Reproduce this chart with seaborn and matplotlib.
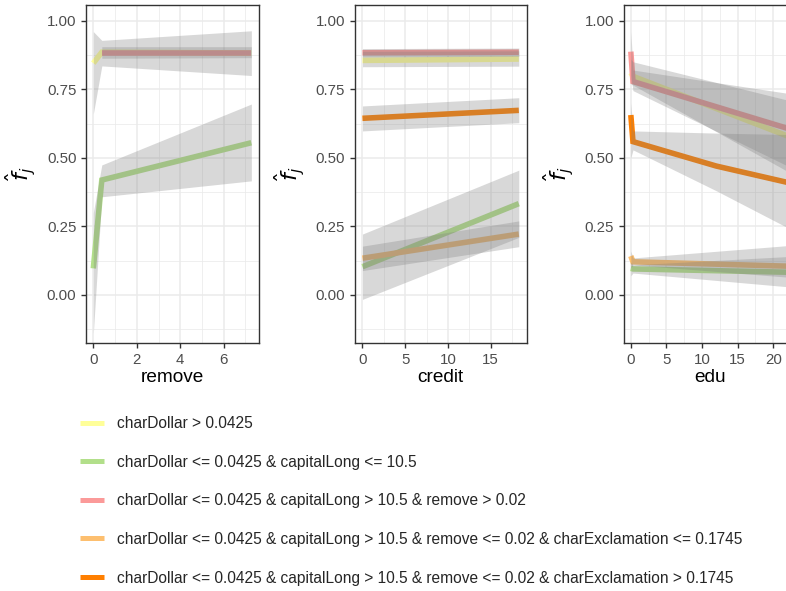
import numpy as np
import pandas as pd
import matplotlib
matplotlib.use("Agg")
import matplotlib.pyplot as plt
import seaborn as sns
from matplotlib.lines import Line2D
from matplotlib.ticker import MultipleLocator, FormatStrFormatter

# ---------------- data ----------------
group_labels = [
    "charDollar > 0.0425",
    "charDollar <= 0.0425 & capitalLong <= 10.5",
    "charDollar <= 0.0425 & capitalLong > 10.5 & remove > 0.02",
    "charDollar <= 0.0425 & capitalLong > 10.5 & remove <= 0.02 & charExclamation <= 0.1745",
    "charDollar <= 0.0425 & capitalLong > 10.5 & remove <= 0.02 & charExclamation > 0.1745",
]
group_colors = ["#FFFF99", "#B2DF8A", "#FB9A99", "#FDBF6F", "#FF7F00"]

# panel "remove" (groups 4 and 5 have no line here)
remove_x = [[0, 0.39, 7.27], [0, 0.39, 7.27], [0.39, 7.27], None, None]
remove_y = [[0.845, 0.885, 0.882], [0.097, 0.419, 0.555], [0.882, 0.882], None, None]
remove_lo = [[0.66, 0.835, 0.80], [-0.14, 0.358, 0.416], [0.863, 0.865], None, None]
remove_hi = [[0.96, 0.928, 0.963], [0.30, 0.474, 0.696], [0.905, 0.905], None, None]

# panel "credit"
credit_x = [[0, 18.3], [0, 18.3], [0, 18.3], [0, 18.3], [0, 18.3]]
credit_y = [[0.855, 0.86], [0.103, 0.333], [0.883, 0.885], [0.134, 0.222], [0.644, 0.673]]
credit_lo = [[0.832, 0.834], [-0.016, 0.21], [0.868, 0.87], [0.089, 0.176], [0.598, 0.628]]
credit_hi = [[0.888, 0.89], [0.222, 0.455], [0.898, 0.9], [0.178, 0.27], [0.689, 0.719]]

# panel "edu"
edu_x = [[0, 0.3, 22.05], [0, 0.3, 22.05], [0, 0.3, 22.05], [0, 0.3, 22.05], [0, 0.3, 12, 22.05]]
edu_y = [[0.81, 0.797, 0.579], [0.097, 0.095, 0.083], [0.887, 0.778, 0.607],
         [0.142, 0.121, 0.105], [0.656, 0.559, 0.47, 0.41]]
edu_lo = [[0.77, 0.765, 0.45], [0.07, 0.08, 0.03], [0.80, 0.745, 0.47],
          [0.10, 0.11, 0.065], [0.50, 0.529, 0.38, 0.245]]
edu_hi = [[0.86, 0.85, 0.71], [0.12, 0.11, 0.14], [0.96, 0.82, 0.735],
          [0.16, 0.135, 0.18], [0.70, 0.598, 0.59, 0.585]]

features = ["remove", "credit", "edu"]
x_major = [2, 5, 5]
xlims = [(-0.337, 7.6), (-0.93, 19.26), (-1.03, 23.2)]
ylims = (-0.175, 1.057)

# ---------------- style ----------------
sns.set_style("white")
plt.rcParams["font.family"] = ["Liberation Sans", "DejaVu Sans"]

W, H = 786, 591
fig = plt.figure(figsize=(W / 100, H / 100), dpi=100)

panel_lefts = [86, 354.5, 623.5]
panel_w = 172.5
top_px, bot_px = 5, 343

panel_data = [
    (remove_x, remove_y, remove_lo, remove_hi),
    (credit_x, credit_y, credit_lo, credit_hi),
    (edu_x, edu_y, edu_lo, edu_hi),
]

for i, feat in enumerate(features):
    ax = fig.add_axes([panel_lefts[i] / W, 1 - bot_px / H, panel_w / W, (bot_px - top_px) / H])
    xs, ys, los, his = panel_data[i]
    rows = []
    for g in range(5):
        if xs[g] is None:
            continue
        for xv, yv, lv, hv in zip(xs[g], ys[g], los[g], his[g]):
            rows.append((group_labels[g], xv, yv, lv, hv))
    df = pd.DataFrame(rows, columns=["group", "x", "y", "lo", "hi"])
    order = [group_labels[g] for g in range(5) if xs[g] is not None]
    pal = {group_labels[g]: group_colors[g] for g in range(5)}
    sns.lineplot(data=df, x="x", y="y", hue="group", hue_order=order, palette=pal,
                 estimator=None, sort=False, legend=False, linewidth=4,
                 solid_capstyle="butt", solid_joinstyle="miter", ax=ax, zorder=2)
    for name in order:
        sub = df[df["group"] == name]
        ax.fill_between(sub["x"], sub["lo"], sub["hi"], color="#7F7F7F", alpha=0.3,
                        lw=0, zorder=3)

    ax.set_xlim(*xlims[i])
    ax.set_ylim(*ylims)
    ax.xaxis.set_major_locator(MultipleLocator(x_major[i]))
    ax.xaxis.set_minor_locator(MultipleLocator(x_major[i] / 2))
    ax.yaxis.set_major_locator(MultipleLocator(0.25))
    ax.yaxis.set_minor_locator(MultipleLocator(0.125))
    ax.yaxis.set_major_formatter(FormatStrFormatter("%.2f"))
    ax.set_axisbelow(True)
    ax.grid(which="major", color="#EBEBEB", lw=1.1)
    ax.grid(which="minor", color="#EBEBEB", lw=0.55)
    for s in ax.spines.values():
        s.set_color("#333333")
        s.set_linewidth(1.0)
        s.set_visible(True)
    ax.tick_params(axis="both", which="major", direction="out", length=3.6, width=1.0,
                   color="#333333", labelcolor="#4D4D4D", labelsize=10.8, pad=3.3,
                   bottom=True, left=True)
    ax.tick_params(axis="both", which="minor", length=0)
    ax.set_xlabel(feat, fontsize=13.7, color="black", labelpad=2)
    ax.set_ylabel(r"$\hat{f}_j$", fontsize=16, color="black", labelpad=6)

handles = [Line2D([], [], color=c, lw=3.6, solid_capstyle="butt") for c in group_colors]
fig.legend(handles, group_labels, loc="upper left", bbox_to_anchor=(80 / W, 1 - 416 / H),
           frameon=False, fontsize=11.2, handlelength=1.55, handletextpad=0.8,
           labelspacing=1.52, borderpad=0, borderaxespad=0)

fig.savefig("out.png", dpi=100)
